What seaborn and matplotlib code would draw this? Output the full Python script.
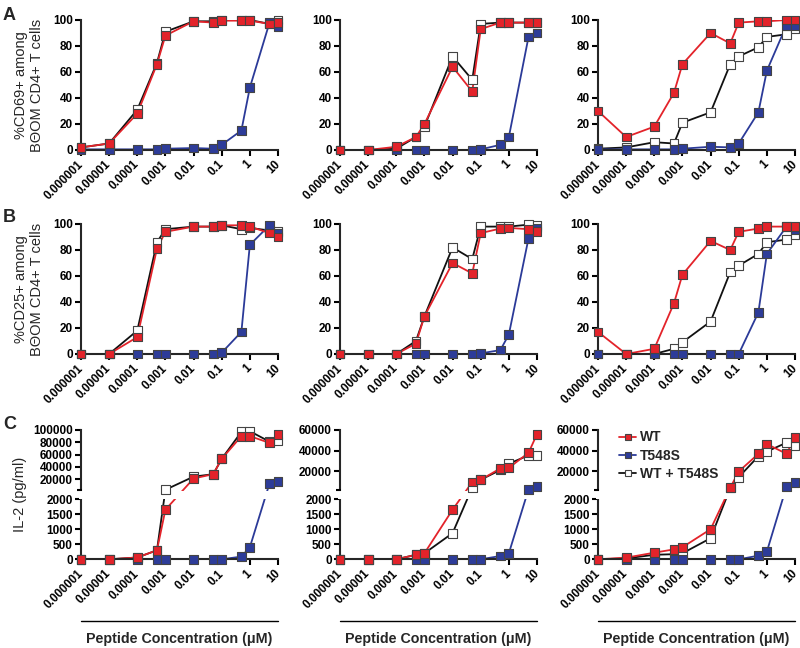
import numpy as np
import pandas as pd
import matplotlib
matplotlib.use('Agg')
import matplotlib.pyplot as plt
from matplotlib.lines import Line2D
from matplotlib.patches import Rectangle
from matplotlib.ticker import NullLocator
import seaborn as sns

# peptide concentrations (uM)
conc = [1e-6, 1e-5, 1e-4, 5e-4, 1e-3, 1e-2, 5e-2, 1e-1, 5e-1, 1, 5, 10]
conc_ticks = [1e-6, 1e-5, 1e-4, 1e-3, 1e-2, 1e-1, 1, 10]
conc_labels = ['0.000001', '0.00001', '0.0001', '0.001', '0.01', '0.1', '1', '10']

groups = ['WT', 'T548S', 'WT + T548S']

# row A: %CD69+, one list per column
cd69_wt = [[2, 5, 28, 66, 88, 99, 98, 99.5, 99.5, 99.5, 97, 98],
           [0, 0, 2.5, 10, 20, 64, 45, 93, 98, 98, 98, 98],
           [30, 10, 18, 44, 66, 90, 82, 98, 99, 99, 100, 100]]
cd69_t548s = [[0.5, 0.5, 0.5, 0.5, 1, 1.5, 1, 4, 15, 48, 98, 95],
              [0, 0, 0, 0, 0, 0, 0, 0.5, 4, 10, 87, 90],
              [0.5, 0.5, 0.5, 0.5, 1, 2.5, 2, 5, 29, 61, 96, 96]]
cd69_mix = [[2, 5, 31, 67, 91, 99, 99, 100, 100, 100, 97, 100],
            [0, 0, 1, 10, 18, 72, 54, 97, 98, 98, 98, 98],
            [1, 2, 6, 5, 21, 29, 66, 72, 79, 87, 89, 93]]

# row B: %CD25+
cd25_wt = [[0, 0, 13, 81, 94, 98, 98, 99, 99, 98, 93, 90],
           [0, 0, 0, 8, 29, 70, 62, 93, 96.5, 97, 96, 94],
           [17, 0, 4, 39, 61, 87, 80, 94, 96.5, 98, 98, 98]]
cd25_t548s = [[0, 0, 0, 0, 0, 0, 0, 1, 17, 84, 99, 93],
              [0, 0, 0, 0, 0, 0, 0, 0.5, 3, 15, 89, 97],
              [0, 0, 0, 0, 0, 0, 0, 0, 32, 77, 98, 96]]
cd25_mix = [[0, 0, 18, 86, 96, 98, 98, 99, 96, 97, 95, 94],
            [0, 0, 0, 10, 29, 82, 73, 98, 98, 98, 99.5, 99],
            [0, 0, 0, 4, 9, 25, 63, 68, 77, 86, 88, 92]]

# row C: IL-2 (pg/ml)
il2_wt = [[0, 0, 60, 300, 1650, 21000, 28000, 53000, 90000, 90000, 79000, 93000],
          [0, 0, 0, 150, 200, 1650, 9800, 12000, 23000, 23500, 38000, 56000],
          [0, 55, 220, 330, 400, 1000, 4300, 20000, 37000, 46500, 37000, 53000]]
il2_t548s = [[0, 0, 0, 0, 0, 0, 0, 0, 90, 400, 13000, 16000],
             [0, 0, 0, 0, 0, 0, 0, 0, 110, 200, 2800, 5600],
             [0, 0, 0, 0, 0, 0, 0, 0, 120, 255, 5600, 9400]]
il2_mix = [[0, 0, 60, 300, 2600, 24000, 28000, 53000, 97000, 98000, 81000, 82000],
           [0, 0, 0, 150, 200, 870, 4500, 12000, 21500, 27500, 35500, 35500],
           [0, 30, 150, 170, 200, 700, 4000, 14500, 34700, 39200, 47800, 44600]]
il2_top = [100000, 60000, 60000]

pct_ticks = [0, 20, 40, 60, 80, 100]
il2_low_ticks = [0, 500, 1000, 1500, 2000]

ylabels = ['%CD69+ among\nBΘOM CD4+ T cells', '%CD25+ among\nBΘOM CD4+ T cells', 'IL-2 (pg/ml)']

line_colors = {'WT': '#e3232a', 'T548S': '#2b3a98', 'WT + T548S': '#111111'}
face_colors = {'WT': '#e3232a', 'T548S': '#2d3c99', 'WT + T548S': '#ffffff'}
draw_order = ['WT + T548S', 'T548S', 'WT']

sns.set_style('ticks')
plt.rcParams['font.family'] = ['Liberation Sans', 'DejaVu Sans']

fig = plt.figure(figsize=(8, 6.48), dpi=100)
W, H = 800, 648
col_left = [81, 340, 598]
col_w = 197
row_top = [20, 224, 430]
row_h = [130, 130, 129.3]

LO = 2000
GAP = 0.15


def break_scale(top):
    def fwd(y):
        y = np.asarray(y, dtype=float)
        return np.where(y <= LO, y / LO, 1 + GAP + (y - LO) / (top - LO))

    def inv(u):
        u = np.asarray(u, dtype=float)
        return np.where(u <= 1, u * LO,
                        np.where(u < 1 + GAP, LO, LO + (u - 1 - GAP) * (top - LO)))
    return fwd, inv


def panel_df(wt, t548s, mix):
    vals = {'WT': wt, 'T548S': t548s, 'WT + T548S': mix}
    parts = [pd.DataFrame({'conc': conc, 'value': vals[g], 'group': g}) for g in draw_order]
    return pd.concat(parts, ignore_index=True)


rows = [(cd69_wt, cd69_t548s, cd69_mix), (cd25_wt, cd25_t548s, cd25_mix), (il2_wt, il2_t548s, il2_mix)]

for r, (wt_all, t_all, mix_all) in enumerate(rows):
    for c in range(3):
        ax = fig.add_axes([col_left[c] / W, 1 - (row_top[r] + row_h[r]) / H, col_w / W, row_h[r] / H])
        df = panel_df(wt_all[c], t_all[c], mix_all[c])

        sns.lineplot(data=df, x='conc', y='value', hue='group', hue_order=draw_order,
                     palette=line_colors, estimator=None, legend=False, linewidth=1.3,
                     ax=ax, zorder=2)
        sns.scatterplot(data=df, x='conc', y='value', hue='group', palette=face_colors,
                        marker='s', s=40, edgecolor='#444444', linewidth=0.8,
                        legend=False, ax=ax, zorder=4, clip_on=False)

        ax.set_xscale('log')
        ax.set_xlim(1e-6, 10)
        ax.set_xticks(conc_ticks)
        ax.xaxis.set_minor_locator(NullLocator())
        ax.set_xticklabels(conc_labels, rotation=45, ha='right', va='center',
                           rotation_mode='anchor', fontweight='bold', fontsize=8.5)

        if r < 2:
            ax.set_ylim(0, 100)
            ax.set_yticks(pct_ticks)
            ax.set_yticklabels([str(t) for t in pct_ticks], fontweight='bold', fontsize=8.5)
        else:
            top = il2_top[c]
            ax.set_yscale('function', functions=break_scale(top))
            ax.set_ylim(0, top)
            hi_ticks = list(range(20000, top + 1, 20000))
            ticks = il2_low_ticks + hi_ticks
            ax.set_yticks(ticks)
            ax.set_yticklabels([str(t) for t in ticks], fontweight='bold', fontsize=8.5)
            ax.yaxis.set_minor_locator(NullLocator())
            # white band = axis break between 2000 and the upper segment
            total = 2 + GAP
            y0 = 1 / total + 0.005
            y1 = (1 + GAP) / total - 0.005
            ax.add_patch(Rectangle((-0.012, y0), 1.06, y1 - y0, transform=ax.transAxes,
                                   facecolor='white', edgecolor='none', zorder=2.7, clip_on=False))
            ax.plot([-0.021, 0.006], [(1 + GAP) / total] * 2, transform=ax.transAxes,
                    color='black', lw=1.5, clip_on=False, zorder=3, solid_capstyle='butt')

        ax.set_xlabel('')
        ax.set_ylabel('')
        sns.despine(ax=ax)
        for sp in ['left', 'bottom']:
            ax.spines[sp].set_linewidth(1.5)
        ax.tick_params(axis='both', direction='out', length=4, width=1.5, pad=2, colors='black')
        ax.tick_params(axis='x', pad=5)

        if c == 0:
            ax.set_ylabel(ylabels[r], fontsize=10.5, linespacing=1.1)
            ax.yaxis.set_label_coords(-0.19 if r < 2 else -0.275, 0.5)

        if r == 2 and c == 2:
            handles = [Line2D([], [], color=line_colors[g], lw=1.3, marker='s', markersize=5,
                              markerfacecolor=face_colors[g], markeredgecolor='#444444',
                              markeredgewidth=0.8) for g in groups]
            ax.legend(handles, groups, loc='upper left', bbox_to_anchor=(0.08, 1.04),
                      frameon=False, handlelength=1.2, handletextpad=0.3, labelspacing=0.3,
                      borderaxespad=0, prop={'weight': 'bold', 'size': 10})

        if r == 2:
            x0 = col_left[c] / W
            x1 = (col_left[c] + col_w) / W
            fig.add_artist(Line2D([x0, x1], [1 - 620.7 / H] * 2, transform=fig.transFigure,
                                  color='black', lw=1))
            fig.text((x0 + x1) / 2, 1 - 639 / H, 'Peptide Concentration (μM)', ha='center',
                     va='center', fontsize=10.3, fontweight='bold')

for letter, ytop in zip(['A', 'B', 'C'], [7, 209, 416]):
    fig.text(3 / W, 1 - ytop / H, letter, ha='left', va='top', fontsize=13, fontweight='bold')

fig.savefig('out.png', dpi=100)
